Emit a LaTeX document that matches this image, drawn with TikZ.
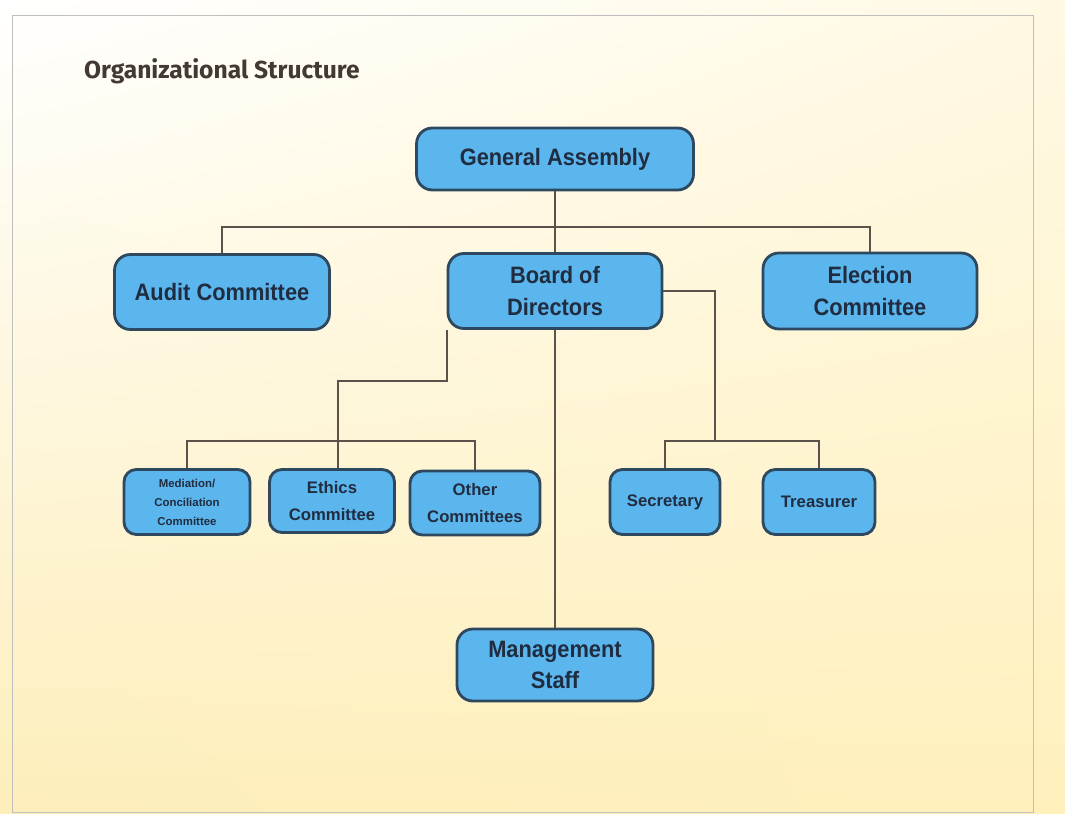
\documentclass[tikz,border=0pt]{standalone}
\usepackage{fontspec}
\setmainfont{Liberation Sans}
\newfontfamily\narrowfont{Liberation Sans}[FakeStretch=0.92]
\newfontfamily\titlefont{Fira Sans}
\usetikzlibrary{positioning,shadings}
\definecolor{boxfill}{RGB}{92,182,238}
\definecolor{boxline}{RGB}{45,72,95}
\definecolor{boxtext}{RGB}{32,44,64}
\definecolor{linkline}{RGB}{92,82,76}
\definecolor{titletext}{RGB}{66,58,50}
\definecolor{bgtr}{RGB}{255,249,228}
\definecolor{bgbl}{RGB}{253,238,186}
\definecolor{bgbr}{RGB}{255,240,188}
\tikzstyle{orgbox}=[rectangle, rounded corners=9pt, draw=boxline, fill=boxfill, ultra thick, align=center, text=boxtext, font=\narrowfont\bfseries\fontsize{13.5}{18}\selectfont]
\tikzstyle{smallbox}=[orgbox, rounded corners=7pt, font=\bfseries\fontsize{9.5}{15}\selectfont]
\tikzstyle{tinybox}=[orgbox, rounded corners=7pt, font=\bfseries\fontsize{6.5}{10.8}\selectfont]
\tikzstyle{link}=[draw=linkline, line width=1.1pt]

\begin{document}
\begin{tikzpicture}[x=0.02cm,y=-0.02cm]

% background
\shade[upper left=white, upper right=bgtr, lower left=bgbl, lower right=bgbr] (0,0) rectangle (1065,814);
\useasboundingbox (0,0) rectangle (1065,814);
\draw[black!25, line width=0.4pt] (12,15) rectangle (1033,812);

\node[anchor=west, text=titletext, font=\titlefont\bfseries\fontsize{14}{16}\selectfont] (title) at (78,71) {Organizational Structure};

\node[orgbox, minimum width=5.54cm, minimum height=1.24cm] (ga) at (555,159) {General Assembly};
\node[orgbox, minimum width=4.3cm, minimum height=1.5cm] (audit) at (222,292) {Audit Committee};
\node[orgbox, minimum width=4.28cm, minimum height=1.5cm] (board) at (555,291) {Board of\\Directors};
\node[orgbox, minimum width=4.28cm, minimum height=1.52cm] (election) at (870,291) {Election\\Committee};
\node[tinybox, minimum width=2.52cm, minimum height=1.3cm] (mediation) at (187,502) {Mediation/\\Conciliation\\Committee};
\node[smallbox, minimum width=2.5cm, minimum height=1.26cm] (ethics) at (332,501) {Ethics\\Committee};
\node[smallbox, minimum width=2.6cm, minimum height=1.28cm] (other) at (475,503) {Other\\Committees};
\node[smallbox, minimum width=2.2cm, minimum height=1.3cm] (secretary) at (665,502) {Secretary};
\node[smallbox, minimum width=2.24cm, minimum height=1.3cm] (treasurer) at (819,502) {Treasurer};
\node[orgbox, minimum width=3.92cm, minimum height=1.44cm] (mgmt) at (555,665) {Management\\Staff};

\coordinate (gaJ) at (555,227);
\coordinate (bdBend) at (338,381);
\coordinate (comJ) at (338,441);
\coordinate (offJ) at (715,441);

\draw[link] (ga.south) -- (board.north);
\draw[link] (audit.north) |- (gaJ) -| (election.north);
\draw[link] (board.south west) |- (bdBend) -- (comJ);
\draw[link] (mediation.north) |- (comJ) -| (other.north);
\draw[link] (comJ) -- (comJ |- ethics.north);
\draw[link] (board.east) -| (offJ);
\draw[link] (secretary.north) |- (offJ) -| (treasurer.north);
\draw[link] (board.south) -- (mgmt.north);

\end{tikzpicture}
\end{document}
